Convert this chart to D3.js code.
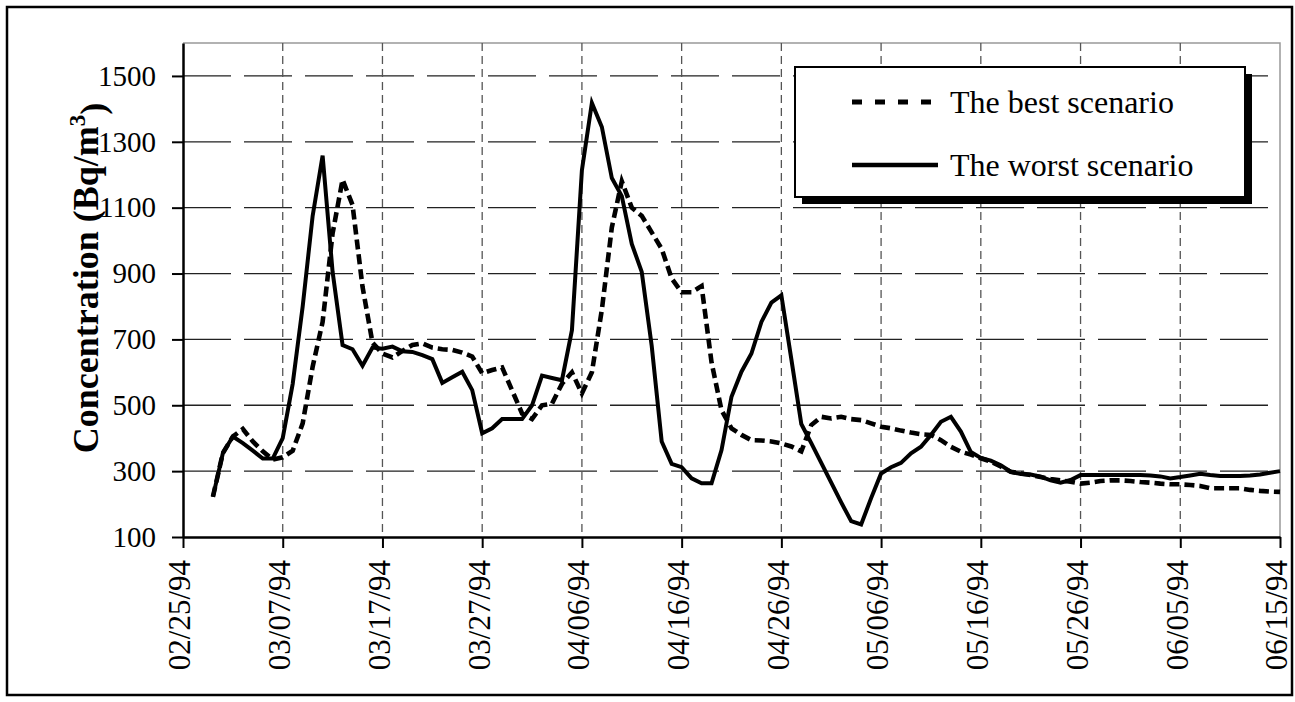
<!DOCTYPE html>
<html>
<head>
<meta charset="utf-8">
<script src="https://cdnjs.cloudflare.com/ajax/libs/d3/7.8.5/d3.min.js"></script>
<style>
  html, body { margin: 0; padding: 0; background: #fff; }
  text { font-family: "Liberation Serif", "Times New Roman", serif; fill: #000; }
</style>
</head>
<body>
<div id="chart"></div>
<script>
// daily values from 02/28/94 to 06/15/94
const firstDay = "02/28/94";
const bestScenario = [
  222, 355, 405, 428, 390, 360, 335, 342, 362, 445,
  617, 753, 1022, 1185, 1108, 860, 690, 657, 645, 665,
  683, 688, 675, 670, 668, 660, 648, 597, 607, 615,
  545, 475, 458, 500, 505, 565, 600, 536, 600, 790,
  1040, 1180, 1100, 1075, 1025, 975, 885, 843, 843, 862,
  630, 485, 430, 410, 394, 393, 390, 384, 375, 360,
  440, 465, 460, 465, 458, 455, 445, 435, 430, 423,
  417, 412, 410, 394, 374, 359, 350, 339, 329, 314,
  298, 293, 288, 282, 276, 272, 268, 262, 265, 270,
  272, 272, 270, 267, 265, 262, 260, 260, 258, 255,
  248, 248, 248, 248, 243, 240, 238, 237
];
const worstScenario = [
  222, 355, 405, 385, 362, 338, 338, 400, 565, 800,
  1075, 1258, 905, 683, 670, 620, 675, 672, 678, 664,
  662, 652, 640, 568, 585, 602, 546, 415, 430, 458,
  458, 458, 500, 590, 583, 576, 728, 1214, 1418, 1345,
  1190, 1135, 990, 905, 680, 390, 322, 312, 278, 263,
  263, 364, 526, 602, 657, 753, 812, 834, 640, 443,
  385, 325, 265, 205, 148, 138, 218, 293, 312, 325,
  354, 374, 410, 450, 465, 420, 358, 340, 332, 318,
  298, 291, 290, 283, 272, 265, 273, 288, 288, 288,
  288, 288, 288, 288, 287, 284, 278, 282, 287, 292,
  288, 285, 285, 285, 287, 290, 295, 300
];
const dateTicks = ["02/25/94", "03/07/94", "03/17/94", "03/27/94", "04/06/94", "04/16/94",
  "04/26/94", "05/06/94", "05/16/94", "05/26/94", "06/05/94", "06/15/94"];
const yTicks = [100, 300, 500, 700, 900, 1100, 1300, 1500];
const seriesNames = ["The best scenario", "The worst scenario"];

const W = 1295, H = 702;
const margin = {top: 43, right: 15, bottom: 165, left: 183};
const width = 1280 - margin.left, height = 537 - margin.top;

const parse = d3.utcParse("%m/%d/%y");
const fmt = d3.utcFormat("%m/%d/%y");
const start = parse(firstDay);
const toPoints = vals => vals.map((v, i) => ({date: d3.utcDay.offset(start, i), value: v}));

const svg = d3.select("#chart").append("svg")
  .attr("width", W).attr("height", H);

// outer frame
svg.append("rect")
  .attr("x", 7).attr("y", 7).attr("width", 1285).attr("height", 688)
  .attr("fill", "#fff").attr("stroke", "#000").attr("stroke-width", 2.5);

const g = svg.append("g").attr("transform", `translate(${margin.left}, ${margin.top})`);

const tickDates = dateTicks.map(parse);
const x = d3.scaleUtc().domain([tickDates[0], tickDates[tickDates.length - 1]]).range([0, width]);
const y = d3.scaleLinear().domain([100, 1600]).range([height, 0]);

// plot border (grey top/right)
g.append("path")
  .attr("d", `M0,0H${width}V${height}`)
  .attr("fill", "none").attr("stroke", "#999").attr("stroke-width", 1.5);

// horizontal gridlines
g.selectAll(".hgrid")
  .data(yTicks.slice(1))
  .enter().append("line")
  .attr("x1", 0).attr("x2", width)
  .attr("y1", d => y(d)).attr("y2", d => y(d))
  .attr("stroke", "#222").attr("stroke-width", 1.3)
  .attr("stroke-dasharray", "48,13");

// vertical gridlines
g.selectAll(".vgrid")
  .data(tickDates.slice(1, -1))
  .enter().append("line")
  .attr("x1", d => x(d)).attr("x2", d => x(d))
  .attr("y1", 0).attr("y2", height)
  .attr("stroke", "#555").attr("stroke-width", 1.3)
  .attr("stroke-dasharray", "8,5");

const line = d3.line().x(d => x(d.date)).y(d => y(d.value));

g.append("path")
  .datum(toPoints(bestScenario))
  .attr("d", line)
  .attr("fill", "none").attr("stroke", "#000").attr("stroke-width", 4.6)
  .attr("stroke-dasharray", "10,5");

g.append("path")
  .datum(toPoints(worstScenario))
  .attr("d", line)
  .attr("fill", "none").attr("stroke", "#000").attr("stroke-width", 4)
  .attr("stroke-linejoin", "miter");

// axes
const yAxis = g.append("g")
  .call(d3.axisLeft(y).tickValues(yTicks).tickFormat(d3.format("d")).tickSize(11).tickSizeOuter(0));
yAxis.select(".domain").attr("stroke-width", 2.5);
yAxis.selectAll(".tick line").attr("stroke-width", 2);
yAxis.selectAll("text")
  .attr("x", -27)
  .style("font-family", "Liberation Serif")
  .style("font-size", "29px");

const xAxis = g.append("g")
  .attr("transform", `translate(0, ${height})`)
  .call(d3.axisBottom(x).tickValues(tickDates).tickFormat(fmt).tickSize(11).tickSizeOuter(0));
xAxis.select(".domain").attr("stroke-width", 2.5);
xAxis.selectAll(".tick line").attr("stroke-width", 2);
xAxis.selectAll("text")
  .attr("transform", "rotate(-90)")
  .attr("x", -23).attr("y", 0).attr("dy", "0.22em")
  .style("text-anchor", "end")
  .style("font-family", "Liberation Serif")
  .style("font-size", "31px");

// y axis title
const yTitle = svg.append("text")
  .attr("transform", `translate(98, 278) rotate(-90)`)
  .attr("text-anchor", "middle")
  .style("font-weight", "bold")
  .style("font-size", "36px");
yTitle.append("tspan").text("Concentration (Bq/m");
yTitle.append("tspan").text("3").attr("dy", "-0.55em").style("font-size", "23px");
yTitle.append("tspan").text(")").attr("dy", "0.55em");

// legend
const lx = 795, ly = 67, lw = 450, lh = 130;
svg.append("rect")
  .attr("x", lx + 7).attr("y", ly + 7).attr("width", lw).attr("height", lh)
  .attr("fill", "#000");
svg.append("rect")
  .attr("x", lx).attr("y", ly).attr("width", lw).attr("height", lh)
  .attr("fill", "#fff").attr("stroke", "#000").attr("stroke-width", 2);

const legend = svg.selectAll(".legend")
  .data(seriesNames)
  .enter().append("g")
  .attr("transform", (d, i) => `translate(${lx}, ${ly + 35 + i * 63})`);
legend.append("line")
  .attr("x1", 57).attr("x2", 143)
  .attr("stroke", "#000")
  .attr("stroke-width", (d, i) => i === 0 ? 5 : 4.5)
  .attr("stroke-dasharray", (d, i) => i === 0 ? "10,13" : null);
legend.append("text")
  .attr("x", 155).attr("dy", "0.35em")
  .style("font-size", "32px")
  .text(d => d);
</script>
</body>
</html>
